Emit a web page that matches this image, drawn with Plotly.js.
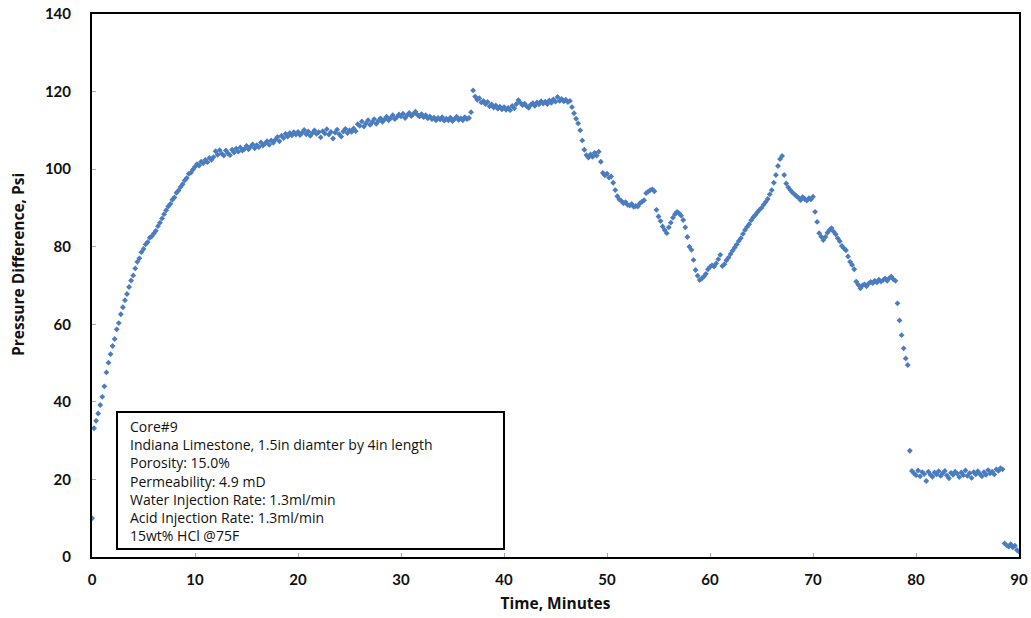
<!DOCTYPE html>
<html>
<head>
<meta charset="utf-8">
<script src="https://cdn.plot.ly/plotly-3.0.1.min.js"></script>
<style>
  html, body { margin: 0; padding: 0; background: #ffffff; }
  #chart { width: 1031px; height: 618px; }
</style>
</head>
<body>
<div id="chart"></div>
<script>
// Core#9 acid injection test: pressure difference across the core, sampled every 0.2 minutes.
const sampleStep = 0.2; // minutes between readings

// Water flood build-up, 0 - 19.8 min
const buildUpStart = 0;
const buildUpPsi = [
  10.0, 33.2, 35.1, 37.0, 39.2, 41.3, 44.0, 47.6, 50.1, 52.3,
  54.4, 56.2, 58.7, 60.3, 62.6, 64.4, 66.2, 67.8, 69.6, 71.3,
  72.6, 74.4, 76.1, 77.0, 78.6, 79.4, 80.6, 81.2, 82.3, 82.7,
  83.4, 84.1, 85.3, 86.2, 87.3, 88.4, 89.4, 90.4, 91.0, 92.1,
  92.7, 93.9, 94.5, 95.4, 96.1, 97.1, 97.7, 98.8, 99.1, 99.9,
  100.6, 101.3, 100.9, 101.9, 101.5, 102.4, 101.8, 102.9, 102.4, 103.1,
  104.6, 103.7, 104.9, 104.0, 103.5, 104.8, 104.1, 103.6, 105.0, 104.3,
  105.3, 104.5, 105.6, 104.8, 105.2, 106.0, 105.1, 105.8, 106.4, 105.4,
  106.2, 105.7, 106.9, 106.1, 106.6, 107.2, 106.3, 107.4, 106.8, 107.6,
  108.3, 107.2, 108.6, 108.0, 109.1, 108.4, 109.3, 108.7, 109.5, 108.9
];

// Plateau before breakthrough, 20 - 45.8 min
const plateauStart = 20;
const plateauPsi = [
  109.6, 108.8, 109.4, 110.1, 109.0, 109.7, 108.6, 109.3, 110.0, 109.1,
  109.5, 108.2, 109.8, 109.2, 110.3, 108.9, 109.6, 107.9, 109.4, 110.2,
  109.0, 108.4, 109.7, 110.4, 109.3, 110.0, 109.6, 110.5, 109.8, 111.6,
  111.2, 112.3, 111.0, 111.8, 112.6, 111.4, 112.1, 112.9, 111.7, 112.4,
  113.1, 112.2, 112.8, 113.5, 112.6, 113.2, 113.9, 112.9, 113.4, 114.1,
  113.6, 114.3, 113.2, 113.9, 114.5, 113.7, 114.2, 114.8, 114.0, 113.6,
  114.2, 113.4, 113.9, 113.1, 113.6, 112.9, 113.3, 112.6, 113.2, 112.8,
  113.4, 112.5, 113.0, 112.6, 113.3, 112.4, 112.9, 113.5, 112.7, 113.1,
  112.6, 113.4, 112.9, 113.2, 114.7, 120.3, 118.7, 117.9, 118.3, 117.2,
  117.6, 116.8, 117.3, 116.2, 116.7, 115.9, 116.4, 115.6, 116.1, 115.4,
  116.0, 115.3, 115.8, 115.2, 116.3, 115.7, 116.8, 117.8, 117.1, 116.5,
  116.9, 116.2, 115.8, 116.6, 117.0, 116.3, 117.2, 116.7, 117.5, 116.9,
  117.4, 116.8, 117.7, 117.1, 118.0, 117.4, 118.6, 117.6, 118.1, 117.5
];

// Acid response, 46 - 77.8 min
const acidStart = 46;
const acidPsi = [
  117.9, 117.3, 117.6, 116.0, 114.4, 113.0, 111.8, 110.0, 107.4, 105.0,
  103.6, 103.0, 103.8, 103.2, 104.2, 103.5, 104.5, 101.9, 99.0, 98.4,
  98.8, 97.8, 98.1, 96.5, 94.6, 93.0, 92.2, 91.8, 91.2, 91.5,
  90.8, 90.6, 91.0, 90.3, 90.5, 90.4, 91.2, 91.6, 92.0, 93.8,
  94.2, 94.6, 94.8, 94.3, 89.5, 87.8, 86.6, 85.2, 84.3, 83.5,
  85.0, 86.2, 87.5, 88.4, 89.0, 88.6, 88.0, 86.9, 85.0, 82.5,
  80.0, 79.2, 76.6, 74.0, 72.5, 71.4, 71.8, 72.3, 73.0, 74.2,
  74.8, 75.2, 74.9, 75.7, 76.8, 77.9, 75.0, 75.5, 76.5, 77.2,
  78.1, 79.0, 79.8, 80.6, 81.5, 82.2, 83.3, 84.3, 85.1, 85.8,
  86.8, 87.6, 88.2, 88.9, 89.5, 90.0, 90.8, 91.5, 92.3, 93.5,
  94.6, 96.5, 98.5, 100.8, 102.6, 103.4, 98.5, 96.3, 95.3, 94.6,
  94.0, 93.5, 93.0, 92.6, 92.0, 92.8, 92.3, 91.9, 92.5, 92.2,
  92.9, 89.0, 86.4, 83.5, 82.6, 81.7, 82.5, 83.6, 84.3, 84.8,
  83.9, 83.2, 82.2, 81.4, 80.2, 79.6, 79.1, 77.5, 76.1, 75.3,
  74.2, 71.0, 70.2, 69.3, 70.0, 70.3, 69.8, 70.5, 70.9, 70.6,
  71.2, 70.8, 71.5, 71.0, 71.4, 71.8, 71.2, 71.9, 72.3, 71.6
];

// Breakthrough and after, 78 - 90 min
const breakthroughStart = 78;
const breakthroughPsi = [
  71.2, 65.4, 61.0, 57.2, 53.8, 51.2, 49.5, 27.4, 22.2, 21.6,
  21.1, 22.3, 20.8, 21.9, 21.4, 19.6, 22.0, 21.2, 20.7, 21.8,
  21.3, 22.1, 20.9, 21.6, 22.2, 21.0, 20.3, 21.7, 21.2, 22.0,
  21.5, 20.6, 21.8, 21.1, 22.3, 20.9, 21.6, 20.4, 21.9, 21.3,
  22.1, 21.4, 20.8, 21.9, 21.2, 22.4, 21.6, 22.0, 21.3, 22.6,
  22.2, 22.9, 22.6, 3.5, 3.0, 2.7, 3.3, 2.5, 2.9, 1.8,
  1.4
];

const xTicks = [0, 10, 20, 30, 40, 50, 60, 70, 80, 90];
const yTicks = [0, 20, 40, 60, 80, 100, 120, 140];

const xTitle = 'Time, Minutes';
const yTitle = 'Pressure Difference, Psi';

const infoLines = [
  'Core#9',
  'Indiana Limestone, 1.5in diamter by 4in length',
  'Porosity: 15.0%',
  'Permeability: 4.9 mD',
  'Water Injection Rate: 1.3ml/min',
  'Acid Injection Rate: 1.3ml/min',
  '15wt% HCl @75F'
];

const segments = [
  [buildUpStart, buildUpPsi],
  [plateauStart, plateauPsi],
  [acidStart, acidPsi],
  [breakthroughStart, breakthroughPsi]
];

const timeMinutes = [];
const pressure = [];
segments.forEach(([start, values]) => {
  values.forEach((v, i) => {
    timeMinutes.push(Math.round((start + i * sampleStep) * 100) / 100);
    pressure.push(v);
  });
});

const W = 1031, H = 618;
const margin = { l: 92, r: 12, t: 14, b: 61 };
const plotW = W - margin.l - margin.r;
const plotH = H - margin.t - margin.b;
const px2x = p => (p - margin.l) / plotW;
const px2y = p => (H - margin.b - p) / plotH;

const TICK_FONT = 'Lato, "Open Sans", "Liberation Sans", sans-serif';
const TEXT_FONT = '"Open Sans", Lato, "Liberation Sans", sans-serif';

const trace = {
  x: timeMinutes,
  y: pressure,
  type: 'scatter',
  mode: 'markers',
  marker: { symbol: 'diamond', size: 4.5, color: '#4a7cc0', line: { width: 0 } },
  hoverinfo: 'x+y'
};

const annotations = [
  // Test conditions, one block of left-aligned lines inside the framed box
  {
    xref: 'paper', yref: 'paper',
    x: px2x(128), y: px2y(481),
    xanchor: 'left', yanchor: 'middle', align: 'left',
    text: infoLines.join('<br>'), showarrow: false,
    font: { family: TEXT_FONT, size: 14, color: '#111' }
  },
  // Vertical axis title, rotated text left of the tick labels
  {
    xref: 'paper', yref: 'paper',
    x: px2x(18), y: px2y(265),
    xanchor: 'center', yanchor: 'middle',
    textangle: -90,
    text: yTitle, showarrow: false,
    font: { family: TEXT_FONT, size: 15.5, weight: 'bold', color: '#111' }
  }
];

const layout = {
  width: W, height: H,
  margin: margin,
  paper_bgcolor: '#ffffff',
  plot_bgcolor: '#ffffff',
  showlegend: false,
  font: { family: TICK_FONT, color: '#111' },
  xaxis: {
    range: [0, 90],
    tickvals: xTicks,
    ticks: 'inside', ticklen: 4, tickwidth: 1, tickcolor: '#aaaaaa',
    showline: true, linecolor: '#000', linewidth: 2, mirror: true,
    showgrid: false, zeroline: false,
    tickfont: { family: TICK_FONT, size: 15, weight: 'bold', color: '#111' },
    ticklabelstandoff: 8,
    title: { text: xTitle, font: { family: TEXT_FONT, size: 15.5, weight: 'bold', color: '#111' }, standoff: 11 }
  },
  yaxis: {
    range: [0, 140],
    tickvals: yTicks,
    ticks: 'inside', ticklen: 4, tickwidth: 1, tickcolor: '#aaaaaa',
    showline: true, linecolor: '#000', linewidth: 2, mirror: true,
    showgrid: false, zeroline: false,
    tickfont: { family: TICK_FONT, size: 15, weight: 'bold', color: '#111' },
    ticklabelstandoff: 16
  },
  shapes: [{
    type: 'rect', xref: 'paper', yref: 'paper',
    x0: px2x(117), x1: px2x(504), y0: px2y(549), y1: px2y(412),
    line: { color: '#000', width: 2 }, fillcolor: '#ffffff', layer: 'above'
  }],
  annotations: annotations
};

Plotly.newPlot('chart', [trace], layout, { displayModeBar: false, staticPlot: true });
</script>
</body>
</html>
